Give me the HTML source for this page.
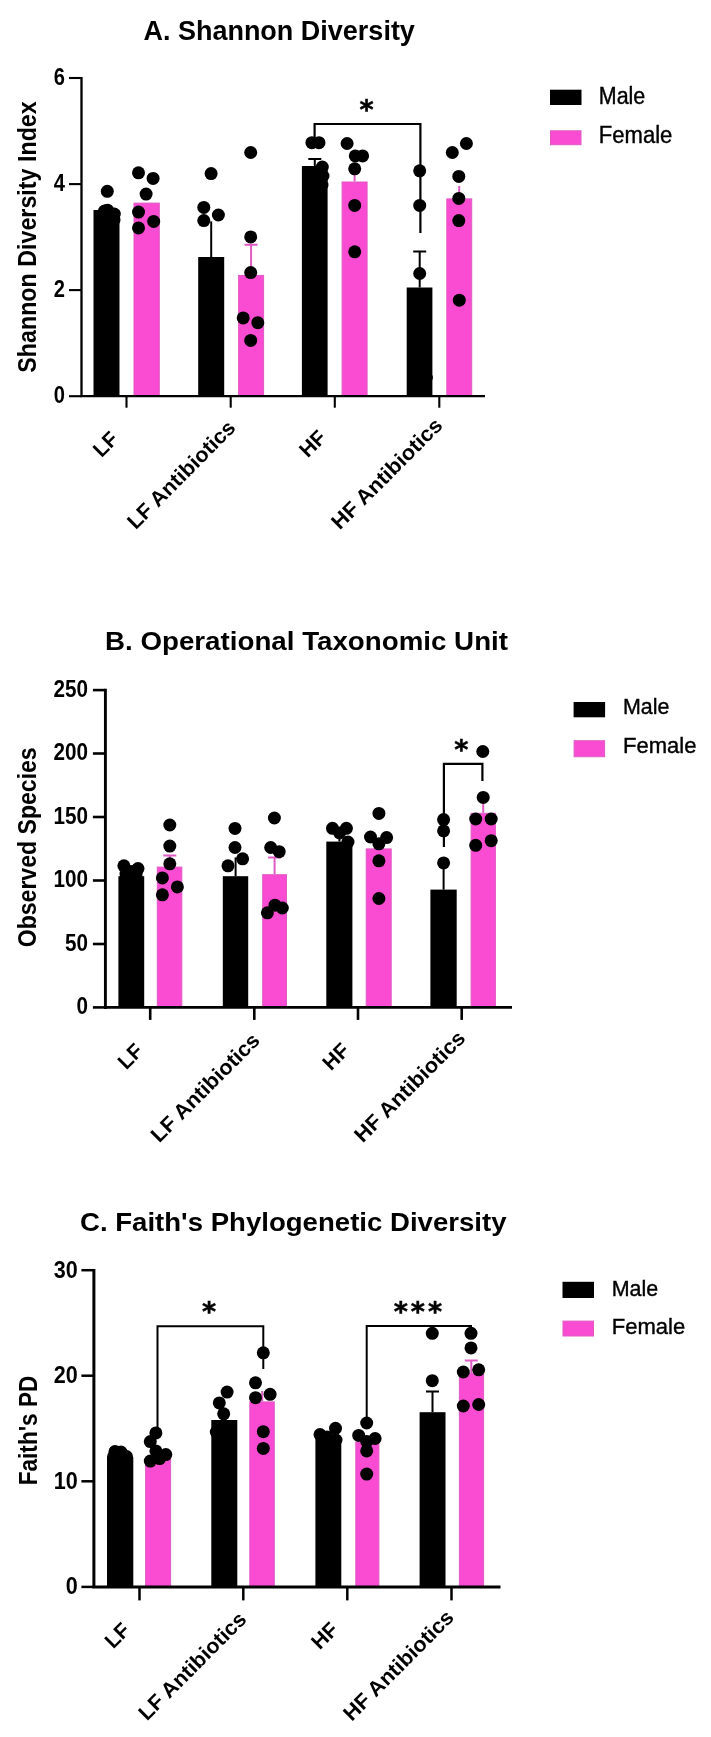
<!DOCTYPE html>
<html lang="en">
<head>
<meta charset="utf-8">
<title>Diversity figures</title>
<style>
html,body{margin:0;padding:0;background:#fff;}
body{width:711px;height:1737px;overflow:hidden;}
svg{display:block;font-family:'Liberation Sans', Arial, sans-serif;fill:#000;filter:blur(0.45px);}
.st{font-family:'DejaVu Sans',sans-serif;}
</style>
</head>
<body>
<svg width="711" height="1737" viewBox="0 0 711 1737">
<rect width="711" height="1737" fill="#fff"/>
<text x="143.4" y="39.6" font-size="27.5" font-weight="bold" textLength="271.5" lengthAdjust="spacingAndGlyphs">A. Shannon Diversity</text>
<text transform="translate(36.0 237.0) rotate(-90)" font-size="26.5" font-weight="bold" text-anchor="middle" textLength="271.5" lengthAdjust="spacingAndGlyphs">Shannon Diversity Index</text>
<rect x="550.0" y="89.7" width="31.5" height="15.3" fill="#000"/>
<rect x="550.5" y="130.8" width="30.5" height="13.9" fill="#F94CD3" stroke="#E05AC4" stroke-width="1"/>
<text x="598.8" y="104.0" font-size="23" stroke="#000" stroke-width="0.4" textLength="46.5" lengthAdjust="spacingAndGlyphs">Male</text>
<text x="598.8" y="142.5" font-size="23" stroke="#000" stroke-width="0.4" textLength="73.5" lengthAdjust="spacingAndGlyphs">Female</text>
<rect x="93.5" y="210.0" width="26.0" height="186.2" fill="#000"/>
<rect x="134.0" y="203.1" width="25.3" height="193.1" fill="#F94CD3" stroke="#E05AC4" stroke-width="1"/>
<path d="M211.2 257.0V221.4M211.2 221.4H211.2" stroke="#000" stroke-width="2" fill="none"/>
<rect x="198.2" y="257.0" width="26.0" height="139.2" fill="#000"/>
<rect x="238.6" y="275.4" width="25.0" height="120.8" fill="#F94CD3" stroke="#E05AC4" stroke-width="1"/>
<path d="M251.1 274.9V244.8M244.6 244.8H257.6" stroke="#E05AC4" stroke-width="2" fill="none"/>
<path d="M314.8 166.0V159.0M308.3 159.0H321.3" stroke="#000" stroke-width="2" fill="none"/>
<rect x="301.9" y="166.0" width="25.7" height="230.2" fill="#000"/>
<rect x="342.1" y="182.0" width="25.0" height="214.2" fill="#F94CD3" stroke="#E05AC4" stroke-width="1"/>
<path d="M354.6 181.5V173.0M354.6 173.0H354.6" stroke="#E05AC4" stroke-width="2" fill="none"/>
<path d="M419.7 287.5V251.5M413.2 251.5H426.2" stroke="#000" stroke-width="2" fill="none"/>
<rect x="406.7" y="287.5" width="25.7" height="108.7" fill="#000"/>
<rect x="446.8" y="198.9" width="24.9" height="197.3" fill="#F94CD3" stroke="#E05AC4" stroke-width="1"/>
<path d="M459.2 198.4V186.0M459.2 186.0H459.2" stroke="#E05AC4" stroke-width="2" fill="none"/>
<path d="M81.5 77.0V397.3M80.3 396.2H485.0" stroke="#000" stroke-width="2.3" fill="none"/>
<path d="M69.0 78.0H81.5" stroke="#000" stroke-width="2.1"/>
<text x="53.8" y="84.7" font-size="23.3" font-weight="bold" textLength="11.2" lengthAdjust="spacingAndGlyphs">6</text>
<path d="M69.0 184.1H81.5" stroke="#000" stroke-width="2.1"/>
<text x="53.8" y="190.8" font-size="23.3" font-weight="bold" textLength="11.2" lengthAdjust="spacingAndGlyphs">4</text>
<path d="M69.0 290.1H81.5" stroke="#000" stroke-width="2.1"/>
<text x="53.8" y="296.8" font-size="23.3" font-weight="bold" textLength="11.2" lengthAdjust="spacingAndGlyphs">2</text>
<path d="M69.0 396.2H81.5" stroke="#000" stroke-width="2.1"/>
<text x="53.8" y="402.9" font-size="23.3" font-weight="bold" textLength="11.2" lengthAdjust="spacingAndGlyphs">0</text>
<path d="M126.5 396.2v11.5" stroke="#000" stroke-width="2.1"/>
<path d="M230.7 396.2v11.5" stroke="#000" stroke-width="2.1"/>
<path d="M334.8 396.2v11.5" stroke="#000" stroke-width="2.1"/>
<path d="M439.3 396.2v11.5" stroke="#000" stroke-width="2.1"/>
<text transform="translate(101.5 458.2) rotate(-45)" font-size="21" font-weight="bold">LF</text>
<text transform="translate(135.7 530.2) rotate(-45)" font-size="21" font-weight="bold" textLength="143.0" lengthAdjust="spacingAndGlyphs">LF Antibiotics</text>
<text transform="translate(307.8 458.6) rotate(-45)" font-size="21" font-weight="bold">HF</text>
<text transform="translate(339.8 530.6) rotate(-45)" font-size="21" font-weight="bold" textLength="147.0" lengthAdjust="spacingAndGlyphs">HF Antibiotics</text>
<path d="M314.6 138.0V124.0H420.4V233.0" stroke="#000" stroke-width="2.2" fill="none"/>
<text x="359.4" y="118.5" font-size="27" font-weight="bold" class="st" stroke="#000" stroke-width="0.5">*</text>
<circle cx="107.3" cy="191.3" r="6.5"/>
<circle cx="104.5" cy="211.0" r="6.5"/>
<circle cx="107.5" cy="210.2" r="6.5"/>
<circle cx="114.3" cy="214.0" r="6.5"/>
<circle cx="114.0" cy="220.0" r="6.5"/>
<circle cx="138.5" cy="172.8" r="6.5"/>
<circle cx="153.1" cy="178.4" r="6.5"/>
<circle cx="146.1" cy="194.1" r="6.5"/>
<circle cx="138.5" cy="212.1" r="6.5"/>
<circle cx="153.7" cy="221.4" r="6.5"/>
<circle cx="138.5" cy="227.9" r="6.5"/>
<circle cx="211.1" cy="173.6" r="6.5"/>
<circle cx="203.8" cy="207.4" r="6.5"/>
<circle cx="218.4" cy="215.0" r="6.5"/>
<circle cx="203.8" cy="220.6" r="6.5"/>
<circle cx="250.7" cy="152.5" r="6.5"/>
<circle cx="250.7" cy="236.9" r="6.5"/>
<circle cx="250.7" cy="272.6" r="6.5"/>
<circle cx="243.2" cy="317.9" r="6.5"/>
<circle cx="257.8" cy="322.7" r="6.5"/>
<circle cx="250.7" cy="340.4" r="6.5"/>
<circle cx="311.9" cy="142.7" r="6.5"/>
<circle cx="319.0" cy="142.7" r="6.5"/>
<circle cx="322.3" cy="167.0" r="6.5"/>
<circle cx="323.0" cy="176.0" r="6.5"/>
<circle cx="322.0" cy="185.0" r="6.5"/>
<circle cx="347.1" cy="143.5" r="6.5"/>
<circle cx="355.3" cy="155.9" r="6.5"/>
<circle cx="362.6" cy="155.9" r="6.5"/>
<circle cx="354.7" cy="168.8" r="6.5"/>
<circle cx="354.7" cy="205.4" r="6.5"/>
<circle cx="354.7" cy="251.8" r="6.5"/>
<circle cx="419.7" cy="170.8" r="6.5"/>
<circle cx="419.7" cy="205.4" r="6.5"/>
<circle cx="419.7" cy="273.5" r="6.5"/>
<circle cx="466.4" cy="143.5" r="6.5"/>
<circle cx="452.3" cy="152.5" r="6.5"/>
<circle cx="458.8" cy="176.4" r="6.5"/>
<circle cx="458.8" cy="198.4" r="6.5"/>
<circle cx="458.8" cy="220.6" r="6.5"/>
<circle cx="459.3" cy="300.2" r="6.5"/>
<circle cx="429.3" cy="377.5" r="3.6"/>
<text x="105.0" y="649.8" font-size="25" font-weight="bold" textLength="403.0" lengthAdjust="spacingAndGlyphs">B. Operational Taxonomic Unit</text>
<text transform="translate(35.6 847.3) rotate(-90)" font-size="26.5" font-weight="bold" text-anchor="middle" textLength="200.0" lengthAdjust="spacingAndGlyphs">Observed Species</text>
<rect x="573.6" y="702.0" width="31.5" height="15.3" fill="#000"/>
<rect x="574.1" y="740.7" width="30.5" height="16.0" fill="#F94CD3" stroke="#E05AC4" stroke-width="1"/>
<text x="623.0" y="714.2" font-size="22.5" stroke="#000" stroke-width="0.4" textLength="46.5" lengthAdjust="spacingAndGlyphs">Male</text>
<text x="623.0" y="753.4" font-size="22.5" stroke="#000" stroke-width="0.4" textLength="73.5" lengthAdjust="spacingAndGlyphs">Female</text>
<rect x="118.4" y="876.2" width="25.8" height="131.2" fill="#000"/>
<rect x="157.3" y="867.1" width="24.5" height="140.3" fill="#F94CD3" stroke="#E05AC4" stroke-width="1"/>
<path d="M169.8 866.6V855.4M163.3 855.4H176.3" stroke="#E05AC4" stroke-width="2" fill="none"/>
<path d="M235.6 876.2V857.4M235.6 857.4H235.6" stroke="#000" stroke-width="2" fill="none"/>
<rect x="222.8" y="876.2" width="25.4" height="131.2" fill="#000"/>
<rect x="262.7" y="874.7" width="23.8" height="132.7" fill="#F94CD3" stroke="#E05AC4" stroke-width="1"/>
<path d="M274.6 874.2V857.4M268.1 857.4H281.1" stroke="#E05AC4" stroke-width="2" fill="none"/>
<path d="M339.4 841.6V832.0M339.4 832.0H339.4" stroke="#000" stroke-width="2" fill="none"/>
<rect x="326.3" y="841.6" width="26.1" height="165.8" fill="#000"/>
<rect x="366.2" y="848.9" width="25.0" height="158.5" fill="#F94CD3" stroke="#E05AC4" stroke-width="1"/>
<path d="M443.6 889.6V866.0M443.6 866.0H443.6" stroke="#000" stroke-width="2" fill="none"/>
<rect x="430.4" y="889.6" width="26.3" height="117.8" fill="#000"/>
<rect x="471.1" y="813.3" width="24.3" height="194.1" fill="#F94CD3" stroke="#E05AC4" stroke-width="1"/>
<path d="M483.2 812.8V800.0M483.2 800.0H483.2" stroke="#E05AC4" stroke-width="2" fill="none"/>
<path d="M105.4 688.8V1008.9M104.0 1007.4H512.0" stroke="#000" stroke-width="2.9" fill="none"/>
<path d="M92.9 690.1H105.4" stroke="#000" stroke-width="2.6"/>
<text x="53.5" y="696.7" font-size="23" font-weight="bold" textLength="34.5" lengthAdjust="spacingAndGlyphs">250</text>
<path d="M92.9 753.5H105.4" stroke="#000" stroke-width="2.6"/>
<text x="53.5" y="760.1" font-size="23" font-weight="bold" textLength="34.5" lengthAdjust="spacingAndGlyphs">200</text>
<path d="M92.9 817.0H105.4" stroke="#000" stroke-width="2.6"/>
<text x="53.5" y="823.6" font-size="23" font-weight="bold" textLength="34.5" lengthAdjust="spacingAndGlyphs">150</text>
<path d="M92.9 880.5H105.4" stroke="#000" stroke-width="2.6"/>
<text x="53.5" y="887.1" font-size="23" font-weight="bold" textLength="34.5" lengthAdjust="spacingAndGlyphs">100</text>
<path d="M92.9 944.0H105.4" stroke="#000" stroke-width="2.6"/>
<text x="65.0" y="950.6" font-size="23" font-weight="bold" textLength="23.0" lengthAdjust="spacingAndGlyphs">50</text>
<path d="M92.9 1007.4H105.4" stroke="#000" stroke-width="2.6"/>
<text x="76.5" y="1014.0" font-size="23" font-weight="bold" textLength="11.5" lengthAdjust="spacingAndGlyphs">0</text>
<path d="M150.2 1007.4v12.5" stroke="#000" stroke-width="2.6"/>
<path d="M254.3 1007.4v12.5" stroke="#000" stroke-width="2.6"/>
<path d="M358.0 1007.4v12.5" stroke="#000" stroke-width="2.6"/>
<path d="M461.7 1007.4v12.5" stroke="#000" stroke-width="2.6"/>
<text transform="translate(126.2 1070.4) rotate(-45)" font-size="21" font-weight="bold">LF</text>
<text transform="translate(159.3 1143.4) rotate(-45)" font-size="21" font-weight="bold" textLength="144.0" lengthAdjust="spacingAndGlyphs">LF Antibiotics</text>
<text transform="translate(331.0 1071.4) rotate(-45)" font-size="21" font-weight="bold">HF</text>
<text transform="translate(362.7 1143.4) rotate(-45)" font-size="21" font-weight="bold" textLength="147.0" lengthAdjust="spacingAndGlyphs">HF Antibiotics</text>
<path d="M443.9 847.0V763.9H482.4V781.0" stroke="#000" stroke-width="2.2" fill="none"/>
<text x="454.3" y="758.7" font-size="27" font-weight="bold" class="st" stroke="#000" stroke-width="0.5">*</text>
<circle cx="123.9" cy="865.8" r="6.5"/>
<circle cx="138.0" cy="868.6" r="6.5"/>
<circle cx="131.0" cy="871.4" r="6.5"/>
<circle cx="126.0" cy="874.0" r="6.5"/>
<circle cx="136.0" cy="875.0" r="6.5"/>
<circle cx="169.8" cy="825.0" r="6.5"/>
<circle cx="169.8" cy="846.1" r="6.5"/>
<circle cx="169.8" cy="863.8" r="6.5"/>
<circle cx="162.4" cy="877.9" r="6.5"/>
<circle cx="177.4" cy="886.9" r="6.5"/>
<circle cx="162.4" cy="894.8" r="6.5"/>
<circle cx="235.0" cy="828.4" r="6.5"/>
<circle cx="235.0" cy="847.5" r="6.5"/>
<circle cx="242.6" cy="858.8" r="6.5"/>
<circle cx="228.0" cy="865.8" r="6.5"/>
<circle cx="274.4" cy="818.0" r="6.5"/>
<circle cx="270.7" cy="847.5" r="6.5"/>
<circle cx="279.2" cy="851.7" r="6.5"/>
<circle cx="267.4" cy="912.8" r="6.5"/>
<circle cx="275.0" cy="905.2" r="6.5"/>
<circle cx="282.3" cy="908.0" r="6.5"/>
<circle cx="332.5" cy="828.3" r="6.5"/>
<circle cx="346.4" cy="828.3" r="6.5"/>
<circle cx="339.6" cy="833.0" r="6.5"/>
<circle cx="348.0" cy="842.0" r="6.5"/>
<circle cx="378.9" cy="813.4" r="6.5"/>
<circle cx="370.5" cy="837.0" r="6.5"/>
<circle cx="386.6" cy="837.6" r="6.5"/>
<circle cx="378.9" cy="843.8" r="6.5"/>
<circle cx="378.9" cy="860.8" r="6.5"/>
<circle cx="378.9" cy="898.5" r="6.5"/>
<circle cx="443.6" cy="819.6" r="6.5"/>
<circle cx="443.6" cy="830.8" r="6.5"/>
<circle cx="443.6" cy="862.9" r="6.5"/>
<circle cx="482.8" cy="751.5" r="6.5"/>
<circle cx="483.2" cy="797.4" r="6.5"/>
<circle cx="475.7" cy="819.0" r="6.5"/>
<circle cx="491.2" cy="819.0" r="6.5"/>
<circle cx="475.7" cy="845.3" r="6.5"/>
<circle cx="491.2" cy="840.7" r="6.5"/>
<text x="80.0" y="1230.5" font-size="26" font-weight="bold" textLength="426.5" lengthAdjust="spacingAndGlyphs">C. Faith's Phylogenetic Diversity</text>
<text transform="translate(36.7 1430.5) rotate(-90)" font-size="26.5" font-weight="bold" text-anchor="middle" textLength="109.5" lengthAdjust="spacingAndGlyphs">Faith's PD</text>
<rect x="562.5" y="1281.8" width="31.5" height="16.2" fill="#000"/>
<rect x="563.0" y="1321.1" width="30.5" height="14.9" fill="#F94CD3" stroke="#E05AC4" stroke-width="1"/>
<text x="611.7" y="1295.6" font-size="22.5" stroke="#000" stroke-width="0.4" textLength="46.5" lengthAdjust="spacingAndGlyphs">Male</text>
<text x="611.7" y="1333.5" font-size="22.5" stroke="#000" stroke-width="0.4" textLength="73.5" lengthAdjust="spacingAndGlyphs">Female</text>
<rect x="107.0" y="1457.0" width="26.3" height="129.9" fill="#000"/>
<rect x="145.6" y="1459.1" width="25.0" height="127.8" fill="#F94CD3" stroke="#E05AC4" stroke-width="1"/>
<path d="M224.3 1420.0V1408.0M224.3 1408.0H224.3" stroke="#000" stroke-width="2" fill="none"/>
<rect x="211.3" y="1420.0" width="26.0" height="166.9" fill="#000"/>
<rect x="249.8" y="1401.9" width="24.5" height="185.0" fill="#F94CD3" stroke="#E05AC4" stroke-width="1"/>
<path d="M262.2 1401.4V1391.0M262.2 1391.0H262.2" stroke="#E05AC4" stroke-width="2" fill="none"/>
<rect x="315.4" y="1437.0" width="25.9" height="149.9" fill="#000"/>
<rect x="355.8" y="1442.1" width="23.1" height="144.8" fill="#F94CD3" stroke="#E05AC4" stroke-width="1"/>
<path d="M432.5 1412.2V1391.5M426.0 1391.5H439.0" stroke="#000" stroke-width="2" fill="none"/>
<rect x="419.6" y="1412.2" width="25.9" height="174.7" fill="#000"/>
<rect x="459.4" y="1373.4" width="24.2" height="213.5" fill="#F94CD3" stroke="#E05AC4" stroke-width="1"/>
<path d="M471.3 1372.9V1360.5M464.8 1360.5H477.8" stroke="#E05AC4" stroke-width="2" fill="none"/>
<path d="M93.9 1269.0V1588.4M92.4 1586.9H500.5" stroke="#000" stroke-width="3.0" fill="none"/>
<path d="M81.4 1270.2H93.9" stroke="#000" stroke-width="2.5"/>
<text x="53.7" y="1277.6" font-size="24.5" font-weight="bold" textLength="24.0" lengthAdjust="spacingAndGlyphs">30</text>
<path d="M81.4 1375.7H93.9" stroke="#000" stroke-width="2.5"/>
<text x="53.7" y="1383.1" font-size="24.5" font-weight="bold" textLength="24.0" lengthAdjust="spacingAndGlyphs">20</text>
<path d="M81.4 1481.3H93.9" stroke="#000" stroke-width="2.5"/>
<text x="53.7" y="1488.7" font-size="24.5" font-weight="bold" textLength="24.0" lengthAdjust="spacingAndGlyphs">10</text>
<path d="M81.4 1586.9H93.9" stroke="#000" stroke-width="2.5"/>
<text x="65.7" y="1594.3" font-size="24.5" font-weight="bold" textLength="12.0" lengthAdjust="spacingAndGlyphs">0</text>
<path d="M139.5 1586.9v13.5" stroke="#000" stroke-width="2.5"/>
<path d="M243.3 1586.9v13.5" stroke="#000" stroke-width="2.5"/>
<path d="M347.3 1586.9v13.5" stroke="#000" stroke-width="2.5"/>
<path d="M451.5 1586.9v13.5" stroke="#000" stroke-width="2.5"/>
<text transform="translate(113.2 1649.5) rotate(-45)" font-size="21" font-weight="bold">LF</text>
<text transform="translate(147.0 1721.4) rotate(-45)" font-size="21" font-weight="bold" textLength="142.5" lengthAdjust="spacingAndGlyphs">LF Antibiotics</text>
<text transform="translate(319.8 1650.6) rotate(-45)" font-size="21" font-weight="bold">HF</text>
<text transform="translate(351.7 1722.1) rotate(-45)" font-size="21" font-weight="bold" textLength="146.3" lengthAdjust="spacingAndGlyphs">HF Antibiotics</text>
<path d="M157.5 1429.0V1326.3H263.3V1369.0" stroke="#000" stroke-width="2.0" fill="none"/>
<text x="202.0" y="1321.2" font-size="27" font-weight="bold" class="st" stroke="#000" stroke-width="0.5">*</text>
<path d="M366.7 1417.0V1326.0H471.0V1335.0" stroke="#000" stroke-width="2.0" fill="none"/>
<text x="393.7" y="1321.3" font-size="27" font-weight="bold" class="st" stroke="#000" stroke-width="0.5" letter-spacing="3">***</text>
<circle cx="115.0" cy="1451.5" r="6.5"/>
<circle cx="121.0" cy="1452.0" r="6.5"/>
<circle cx="126.5" cy="1456.5" r="6.5"/>
<circle cx="113.6" cy="1456.5" r="6.5"/>
<circle cx="155.9" cy="1432.9" r="6.5"/>
<circle cx="150.3" cy="1441.6" r="6.5"/>
<circle cx="155.9" cy="1450.9" r="6.5"/>
<circle cx="165.8" cy="1454.6" r="6.5"/>
<circle cx="150.3" cy="1461.1" r="6.5"/>
<circle cx="159.6" cy="1458.6" r="6.5"/>
<circle cx="227.1" cy="1392.1" r="6.5"/>
<circle cx="219.3" cy="1402.9" r="6.5"/>
<circle cx="223.7" cy="1413.8" r="6.5"/>
<circle cx="216.3" cy="1432.0" r="6.5"/>
<circle cx="263.3" cy="1352.8" r="6.5"/>
<circle cx="255.5" cy="1382.8" r="6.5"/>
<circle cx="255.5" cy="1397.7" r="6.5"/>
<circle cx="270.1" cy="1394.3" r="6.5"/>
<circle cx="263.3" cy="1431.7" r="6.5"/>
<circle cx="263.3" cy="1448.4" r="6.5"/>
<circle cx="335.5" cy="1428.3" r="6.5"/>
<circle cx="320.0" cy="1434.5" r="6.5"/>
<circle cx="327.0" cy="1437.0" r="6.5"/>
<circle cx="336.0" cy="1440.0" r="6.5"/>
<circle cx="366.7" cy="1423.0" r="6.5"/>
<circle cx="358.7" cy="1435.4" r="6.5"/>
<circle cx="375.1" cy="1438.5" r="6.5"/>
<circle cx="366.7" cy="1441.6" r="6.5"/>
<circle cx="366.7" cy="1450.9" r="6.5"/>
<circle cx="366.7" cy="1474.1" r="6.5"/>
<circle cx="432.3" cy="1333.3" r="6.5"/>
<circle cx="432.3" cy="1380.7" r="6.5"/>
<circle cx="471.0" cy="1333.3" r="6.5"/>
<circle cx="471.0" cy="1347.9" r="6.5"/>
<circle cx="463.3" cy="1372.0" r="6.5"/>
<circle cx="478.7" cy="1369.8" r="6.5"/>
<circle cx="463.3" cy="1406.0" r="6.5"/>
<circle cx="478.7" cy="1404.5" r="6.5"/>
</svg>
</body>
</html>
